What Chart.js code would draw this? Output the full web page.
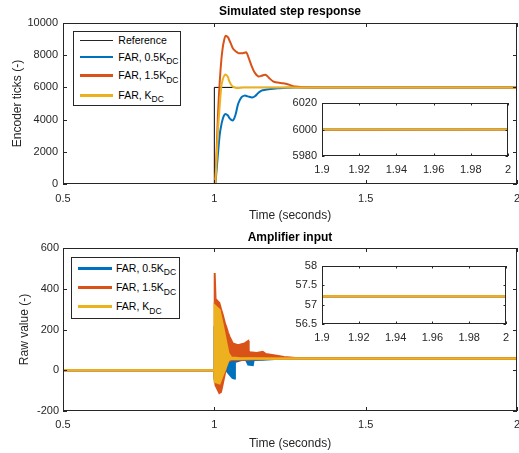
<!DOCTYPE html>
<html>
<head>
<meta charset="utf-8">
<script src="https://cdn.jsdelivr.net/npm/chart.js@4.4.1/dist/chart.umd.min.js"></script>
<style>
  html, body { margin: 0; padding: 0; background: #fff; }
  #wrap { position: relative; width: 519px; height: 453px; overflow: hidden;
          font-family: "Liberation Sans", Arial, sans-serif; }
  canvas { position: absolute; left: 0; top: 0; }
  .legend { position: absolute; border: 1px solid #262626; background: #fff; box-sizing: border-box; }
  .swatch { position: absolute; }
  .lab { position: absolute; font-size: 10.5px; line-height: 12px; color: #000; white-space: nowrap; }
  .lab sub { font-size: 8.5px; vertical-align: baseline; position: relative; top: 3.5px; }
</style>
</head>
<body>
<div id="wrap">
  <canvas id="top" width="519" height="453"></canvas>
  <canvas id="bottom" width="519" height="453"></canvas>
  <canvas id="topInset" width="519" height="453"></canvas>
  <canvas id="bottomInset" width="519" height="453"></canvas>
</div>
<script>
// ---- data ----
const BLUE = '#0072BD', ORANGE = '#D95319', YELLOW = '#EDB120';

const seriesNames = ['FAR, 0.5K_DC', 'FAR, 1.5K_DC', 'FAR, K_DC'];

// step response (encoder ticks)
const tRef = [0.5, 1.0, 1.0, 2.0];
const refTop = [0, 0, 6000, 6000];
const tTop = [0.5, 1.0, 1.003, 1.0125, 1.018, 1.0235, 1.028, 1.032, 1.037, 1.045, 1.048, 1.055, 1.062,
  1.07, 1.079, 1.09, 1.1, 1.106, 1.115, 1.125, 1.134, 1.145, 1.156, 1.169, 1.18, 1.194, 1.21, 1.227,
  1.245, 1.265, 1.3, 1.35, 2.0];
const blueTop = [0, 0, 0, 2000, 3100, 3700, 4050, 4250, 4350, 4250, 4150, 4000, 3950,
  4300, 5000, 5400, 5490, 5470, 5420, 5380, 5450, 5650, 5800, 5850, 5880, 5910, 5940, 5970,
  5985, 5995, 6000, 6000, 6000];
const orangeTop = [0, 0, 0, 4490, 6400, 7780, 8500, 8900, 9200, 9120, 9000, 8700, 8400,
  8250, 8130, 8120, 8150, 8170, 7750, 7250, 6900, 6680, 6720, 6790, 6600, 6380, 6300, 6260,
  6180, 6050, 6010, 6000, 6000];
const yellowTop = [0, 0, 0, 3460, 4900, 6130, 6500, 6700, 6800, 6650, 6450, 6180, 6030,
  5975, 5960, 5980, 6000, 6000, 6000, 6000, 6000, 6000, 6000, 6000, 6000, 6000, 6000, 6000,
  6000, 6000, 6000, 6000, 6000];

// amplifier input: fast oscillation shown as upper / lower envelope
const tBlue = [0.5, 1.0, 1.0005, 1.02, 1.035, 1.042, 1.05, 1.06, 1.066, 1.068, 1.09, 1.105,
  1.112, 1.127, 1.13, 1.16, 1.2, 1.28, 2.0];
const blueHi = [0, 0, 200, 150, 80, 60, 60, 60, 60, 58, 58, 58, 58, 58, 58, 58, 57.5, 57.22, 57.22];
const blueLo = [0, 0, -40, -30, 0, -5, -20, -37, -40, 40, 50, 50, 28, 25, 50, 52, 55, 57.22, 57.22];

const tOrange = [0.5, 1.0, 1.0005, 1.002, 1.004, 1.0165, 1.022, 1.028, 1.036, 1.039, 1.045, 1.05,
  1.061, 1.078, 1.1, 1.112, 1.1135, 1.117, 1.14, 1.16, 1.17, 1.206, 1.23, 1.259, 1.28, 2.0];
const orangeHi = [0, 0, 477, 470, 350, 330, 300, 271, 225, 214, 185, 165,
  132, 123, 132, 143, 95, 88, 85, 91, 80, 71, 65, 61, 57.22, 57.22];
const orangeLo = [0, 0, -20, -40, -73, -112, -106, -65, -8, 20, 41, 48,
  50, 50, 52, 52, 52, 53, 54, 54, 55, 55, 56, 56.5, 57.22, 57.22];

const tYellow = [0.5, 1.0, 1.0005, 1.0175, 1.028, 1.039, 1.047, 1.056, 1.08, 1.12, 1.2, 1.28, 2.0];
const yellowHi = [0, 0, 320, 296, 222, 140, 83, 62, 60, 59, 58, 57.22, 57.22];
const yellowLo = [0, 0, -57, -65, -24, 17, 50, 55, 55, 56, 56.8, 57.22, 57.22];

// axis ticks
const xTicksMain = [0.5, 1, 1.5, 2];
const yTicksTop = [0, 2000, 4000, 6000, 8000, 10000];
const yTicksBottom = [-200, 0, 200, 400, 600];
const xTicksInset = [1.9, 1.92, 1.94, 1.96, 1.98, 2];
const yTicksTopInset = [5980, 6000, 6020];
const yTicksBottomInset = [56.5, 57, 57.5, 58];

// ---- chart setup ----
Chart.defaults.font.family = '"Liberation Sans", Arial, sans-serif';
Chart.defaults.color = '#262626';

const pts = (t, v) => t.map((x, i) => ({ x, y: v[i] }));

function curve(label, t, v, color, width, order, tension) {
  return { label, data: pts(t, v), borderColor: color, backgroundColor: color, borderWidth: width,
    pointRadius: 0, fill: false, tension, order };
}
function band(label, t, hi, lo, color, order) {
  return [
    { label, data: pts(t, hi), borderColor: color, backgroundColor: color, borderWidth: 2,
      pointRadius: 0, tension: 0, fill: '+1', order },
    { label: label + ' lo', data: pts(t, lo), borderColor: color, backgroundColor: color, borderWidth: 2,
      pointRadius: 0, tension: 0, fill: false, order },
  ];
}

// white axes background, box and inward ticks like matlab
const matlabBox = {
  id: 'matlabBox',
  beforeDraw(chart) {
    const { ctx, chartArea: a } = chart;
    ctx.save();
    ctx.fillStyle = '#fff';
    ctx.fillRect(a.left, a.top, a.right - a.left, a.bottom - a.top);
    ctx.restore();
  },
  afterDraw(chart, args, opts) {
    const { ctx, chartArea: a, scales: { x, y } } = chart;
    const len = opts.tick;
    ctx.save();
    ctx.strokeStyle = '#262626';
    ctx.lineWidth = 1;
    ctx.strokeRect(a.left + 0.5, a.top + 0.5, a.right - a.left - 1, a.bottom - a.top - 1);
    ctx.beginPath();
    x.ticks.forEach((tk) => {
      const px = Math.round(x.getPixelForValue(tk.value)) + 0.5;
      ctx.moveTo(px, a.bottom); ctx.lineTo(px, a.bottom - len);
      ctx.moveTo(px, a.top); ctx.lineTo(px, a.top + len);
    });
    y.ticks.forEach((tk) => {
      const py = Math.round(y.getPixelForValue(tk.value)) + 0.5;
      ctx.moveTo(a.left, py); ctx.lineTo(a.left + len, py);
      ctx.moveTo(a.right, py); ctx.lineTo(a.right - len, py);
    });
    ctx.stroke();
    ctx.restore();
  },
};

function scales(o) {
  const fixTicks = (arr) => (s) => { s.ticks = arr.map((v) => ({ value: v })); };
  return {
    x: {
      type: 'linear', min: o.xMin, max: o.xMax,
      afterBuildTicks: fixTicks(o.xTicks),
      afterFit: (s) => { s.height = o.xH; s.paddingLeft = 0; s.paddingRight = 0; },
      grid: { display: false, drawTicks: false }, border: { display: false },
      ticks: { font: { size: 11 }, padding: o.xPad, maxRotation: 0, autoSkip: false, callback: (v) => String(v) },
      title: o.xTitle ? { display: true, text: o.xTitle, font: { size: 12 }, padding: { top: 0, bottom: o.xTitlePad } } : { display: false },
    },
    y: {
      type: 'linear', min: o.yMin, max: o.yMax,
      afterBuildTicks: fixTicks(o.yTicks),
      afterFit: (s) => { s.width = o.yW; s.paddingTop = 0; s.paddingBottom = 0; },
      grid: { display: false, drawTicks: false }, border: { display: false },
      ticks: { font: { size: 11 }, padding: o.yPad, autoSkip: false, callback: (v) => String(v) },
      title: o.yTitle ? { display: true, text: o.yTitle, font: { size: 12 }, padding: { top: o.yTitlePad, bottom: 0 } } : { display: false },
    },
  };
}

function make(id, datasets, padding, sc, title, tick) {
  return new Chart(document.getElementById(id), {
    type: 'line',
    data: { datasets },
    plugins: [matlabBox],
    options: {
      responsive: false, animation: false, events: [],
      layout: { padding },
      scales: sc,
      plugins: {
        legend: { display: false }, tooltip: { enabled: false },
        title: title ? { display: true, text: title.text, fullSize: false, color: '#000',
          font: { size: 12, weight: 'bold' }, padding: title.padding } : { display: false },
        matlabBox: { tick },
      },
    },
  });
}

const topSets = () => [
  curve('Reference', tRef, refTop, '#000', 1, 40, 0),
  curve(seriesNames[0], tTop, blueTop, BLUE, 2, 30, 0.35),
  curve(seriesNames[1], tTop, orangeTop, ORANGE, 2, 20, 0.35),
  curve(seriesNames[2], tTop, yellowTop, YELLOW, 2, 10, 0.35),
];
const bottomSets = () => [
  ...band(seriesNames[0], tBlue, blueHi, blueLo, BLUE, 30),
  ...band(seriesNames[1], tOrange, orangeHi, orangeLo, ORANGE, 20),
  ...band(seriesNames[2], tYellow, yellowHi, yellowLo, YELLOW, 10),
];

make('top', topSets(), { left: 0, top: 0, right: 2, bottom: 227 },
  scales({ xMin: 0.5, xMax: 2, xTicks: xTicksMain, xH: 42, xPad: 8.5, xTitle: 'Time (seconds)', xTitlePad: 2.8,
    yMin: 0, yMax: 10000, yTicks: yTicksTop, yW: 63, yPad: 5, yTitle: 'Encoder ticks (-)', yTitlePad: 10 }),
  { text: 'Simulated step response', padding: { top: 4.5, bottom: 4.1 } }, 4);

make('bottom', bottomSets(), { left: 0, top: 226, right: 2, bottom: 0 },
  scales({ xMin: 0.5, xMax: 2, xTicks: xTicksMain, xH: 42, xPad: 7.5, xTitle: 'Time (seconds)', xTitlePad: 2.6,
    yMin: -200, yMax: 600, yTicks: yTicksBottom, yW: 63, yPad: 4, yTitle: 'Raw value (-)', yTitlePad: 17.8 }),
  { text: 'Amplifier input', padding: { top: 4.5, bottom: 3.1 } }, 4);

make('topInset', topSets(), { left: 282, top: 103, right: 11, bottom: 271 },
  scales({ xMin: 1.9, xMax: 2, xTicks: xTicksInset, xH: 26, xPad: 7.5,
    yMin: 5980, yMax: 6020, yTicks: yTicksTopInset, yW: 40, yPad: 5 }), null, 2.5);

make('bottomInset', bottomSets(), { left: 282, top: 266, right: 13, bottom: 103 },
  scales({ xMin: 1.9, xMax: 2, xTicks: xTicksInset, xH: 26, xPad: 7.5,
    yMin: 56.5, yMax: 58, yTicks: yTicksBottomInset, yW: 40, yPad: 5 }), null, 2.5);

// ---- legends (html, for the DC subscripts) ----
function legend(box, rows) {
  const el = document.createElement('div');
  el.className = 'legend';
  Object.assign(el.style, { left: box.x + 'px', top: box.y + 'px', width: box.w + 'px', height: box.h + 'px' });
  rows.forEach((r) => {
    const sw = document.createElement('div');
    sw.className = 'swatch';
    Object.assign(sw.style, { left: (box.lineX0 - box.x - 1) + 'px', width: (box.lineX1 - box.lineX0) + 'px',
      top: (r.y - box.y - 1 - r.w / 2) + 'px', height: r.w + 'px', background: r.color });
    el.appendChild(sw);
    const lab = document.createElement('div');
    lab.className = 'lab';
    const parts = r.label.split('_');
    lab.textContent = parts[0];
    if (parts[1]) {
      const sub = document.createElement('sub');
      sub.textContent = parts[1];
      lab.appendChild(sub);
    }
    Object.assign(lab.style, { left: (box.textX - box.x - 1) + 'px', top: (r.y - 0.5 - 5.9 - box.y - 1) + 'px' });
    el.appendChild(lab);
  });
  document.getElementById('wrap').appendChild(el);
}

legend({ x: 73, y: 31, w: 108, h: 75, lineX0: 80, lineX1: 113, textX: 118.3 }, [
  { label: 'Reference', color: '#262626', w: 1.5, y: 40.3 },
  { label: seriesNames[0], color: BLUE, w: 2.5, y: 57 },
  { label: seriesNames[1], color: ORANGE, w: 2.5, y: 75.7 },
  { label: seriesNames[2], color: YELLOW, w: 2.5, y: 95.3 },
]);
legend({ x: 71, y: 257, w: 109, h: 62, lineX0: 78, lineX1: 112, textX: 116 }, [
  { label: seriesNames[0], color: BLUE, w: 3, y: 268.3 },
  { label: seriesNames[1], color: ORANGE, w: 3, y: 287.7 },
  { label: seriesNames[2], color: YELLOW, w: 3, y: 306.7 },
]);
</script>
</body>
</html>
